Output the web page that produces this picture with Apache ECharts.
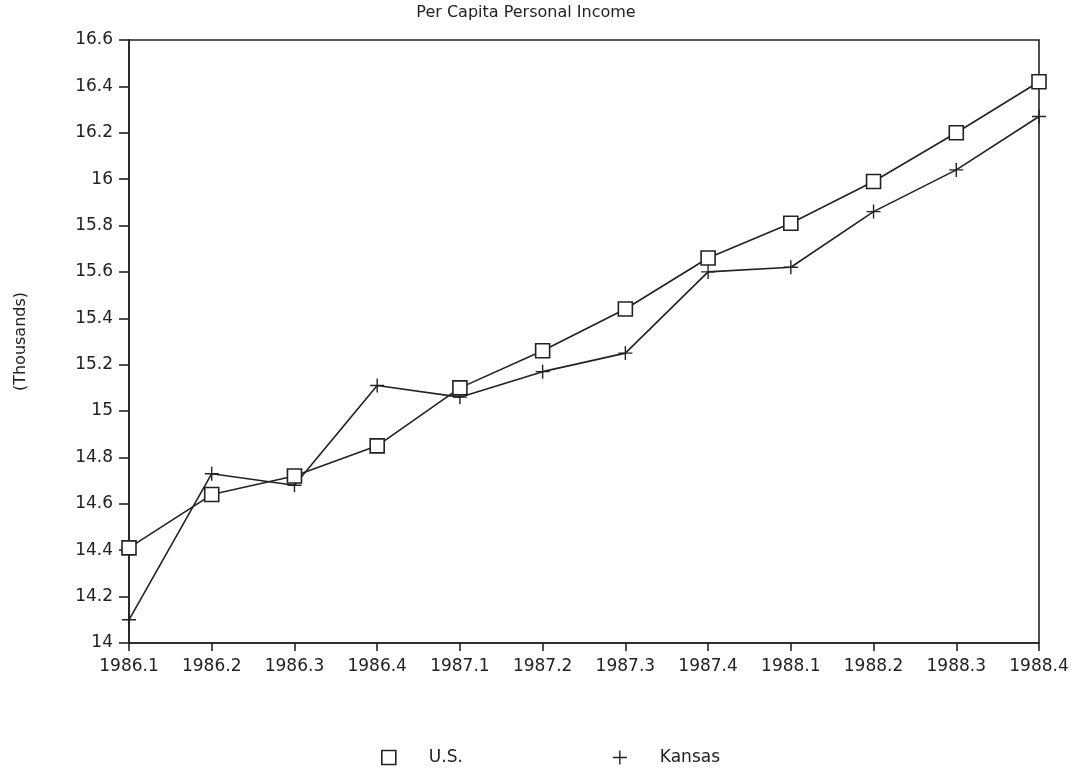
<!DOCTYPE html>
<html>
<head>
<meta charset="utf-8">
<script src="https://cdn.jsdelivr.net/npm/echarts@6/dist/echarts.min.js"></script>
<style>
  html, body { margin: 0; padding: 0; background: #fff; }
  #main { width: 1082px; height: 777px; }
</style>
</head>
<body>
<div id="main"></div>
<script>
// 季度人均收入（千美元）
const quarters = ['1986.1', '1986.2', '1986.3', '1986.4', '1987.1', '1987.2',
  '1987.3', '1987.4', '1988.1', '1988.2', '1988.3', '1988.4'];
const usValues = [14.41, 14.64, 14.72, 14.85, 15.10, 15.26, 15.44, 15.66, 15.81, 15.99, 16.20, 16.42];
const kansasValues = [14.10, 14.73, 14.68, 15.11, 15.06, 15.17, 15.25, 15.60, 15.62, 15.86, 16.04, 16.27];

const ink = '#222';
const font = 'DejaVu Sans';
const plusPath = 'path://M6.3,0h1.4v14h-1.4z M0,6.3h14v1.4h-14z';

const chart = echarts.init(document.getElementById('main'));

const option = {
  backgroundColor: '#fff',
  animation: false,
  title: {
    text: 'Per Capita Personal Income',
    left: 521,
    textAlign: 'center',
    top: 0,
    textStyle: { fontFamily: font, fontSize: 16, fontWeight: 'normal', color: ink }
  },
  grid: {
    left: 129, right: 43, top: 40, bottom: 134,
    show: true, borderColor: ink, borderWidth: 1.6, backgroundColor: 'transparent'
  },
  legend: {
    bottom: 6,
    left: 376,
    itemGap: 150,
    itemWidth: 14,
    itemHeight: 14,
    textStyle: { fontFamily: font, fontSize: 17, color: ink, padding: [0, 0, 0, 28] },
    data: [
      { name: 'U.S.', icon: 'rect', itemStyle: { color: '#fff', borderColor: ink, borderWidth: 1.6 } },
      { name: 'Kansas', icon: plusPath, itemStyle: { color: ink, borderWidth: 0 } }
    ]
  },
  xAxis: {
    type: 'category',
    data: quarters,
    boundaryGap: false,
    axisLine: { lineStyle: { color: ink, width: 1.6 } },
    axisTick: { show: true, length: 8, inside: false, lineStyle: { color: ink, width: 1.6 } },
    axisLabel: { fontFamily: font, fontSize: 17, color: ink, margin: 15 },
    splitLine: { show: false }
  },
  yAxis: {
    type: 'value',
    min: 14,
    max: 16.6,
    interval: 0.2,
    name: '(Thousands)',
    nameLocation: 'middle',
    nameGap: 100,
    nameRotate: 90,
    nameTextStyle: { fontFamily: font, fontSize: 16, color: ink },
    axisLine: { show: true, lineStyle: { color: ink, width: 1.6 } },
    axisTick: { show: true, length: 10, lineStyle: { color: ink, width: 1.6 } },
    axisLabel: {
      fontFamily: font, fontSize: 17, color: ink, margin: 16,
      formatter: v => String(Math.round(v * 10) / 10)
    },
    splitLine: { show: false }
  },
  series: [
    {
      name: 'U.S.',
      type: 'line',
      data: usValues,
      symbol: 'rect',
      symbolSize: 14,
      showAllSymbol: true,
      lineStyle: { color: ink, width: 1.6 },
      itemStyle: { color: '#fff', borderColor: ink, borderWidth: 1.6 },
      z: 3
    },
    {
      name: 'Kansas',
      type: 'line',
      data: kansasValues,
      symbol: plusPath,
      symbolSize: 14,
      showAllSymbol: true,
      lineStyle: { color: ink, width: 1.6 },
      itemStyle: { color: ink, borderWidth: 0 },
      z: 2
    }
  ]
};

chart.setOption(option);
</script>
</body>
</html>
